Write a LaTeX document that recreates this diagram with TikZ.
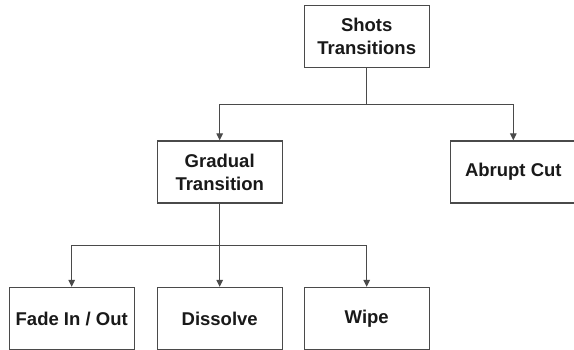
\documentclass[tikz,border=0pt]{standalone}
\usepackage{fontspec}
\setmainfont{Liberation Sans}
\usetikzlibrary{arrows.meta}
\definecolor{edgegray}{HTML}{4A4A4A}
\begin{document}
\begin{tikzpicture}[x=1pt,y=1pt,
  box/.style={draw=edgegray, line width=1.2pt, fill=white, minimum width=125pt,
    minimum height=62pt, align=center, inner sep=2pt,
    font=\fontsize{18.5}{23}\selectfont\bfseries, text=black!90},
  link/.style={draw=edgegray, line width=1.1pt,
    -{Triangle[length=7pt,width=6.5pt]}}]
\useasboundingbox (0,0) rectangle (574,350);
\node[box] (shots) at (366.7,313.5) {Shots\\Transitions};
\node[box] (gradual) at (219.7,178) {Gradual\\Transition};
\node[box] (abrupt) at (513.3,178) {Abrupt Cut};
\node[box] (fade) at (71.7,31.5) {Fade In / Out};
\node[box] (dissolve) at (219.7,31.5) {Dissolve};
\node[box] (wipe) at (366.7,31.5) {Wipe};
\draw[link] (shots.south) -- ++(0,-36) -| (gradual.north);
\draw[link] (shots.south) -- ++(0,-36) -| (abrupt.north);
\draw[link] (gradual.south) -- ++(0,-42) -| (fade.north);
\draw[link] (gradual.south) -- (dissolve.north);
\draw[link] (gradual.south) -- ++(0,-42) -| (wipe.north);
\end{tikzpicture}
\end{document}
